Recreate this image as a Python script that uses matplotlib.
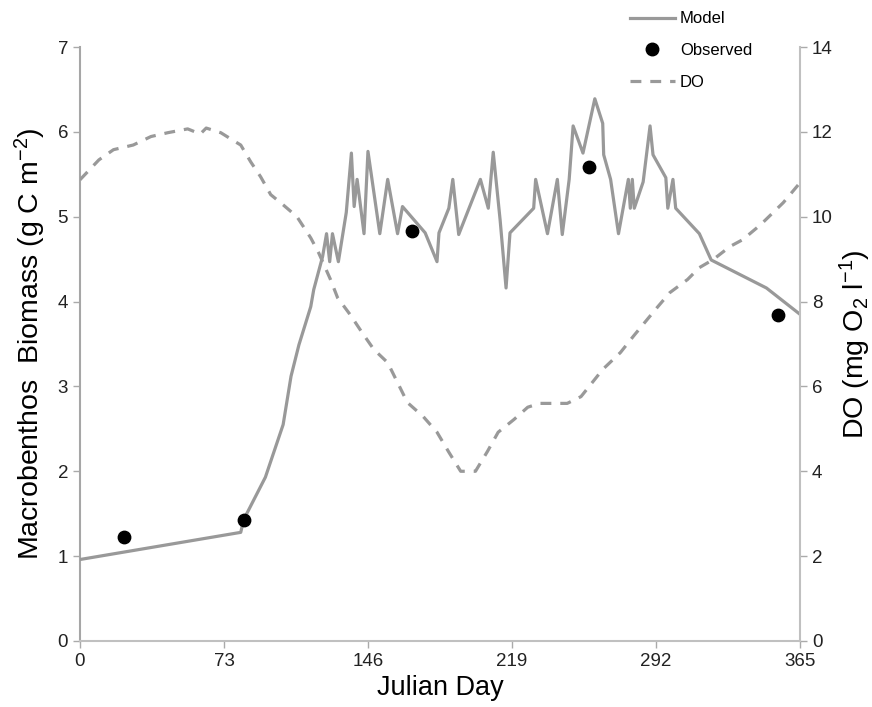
import matplotlib.pyplot as plt
from matplotlib.lines import Line2D

plt.rcParams['font.family'] = ['Liberation Sans', 'DejaVu Sans']
plt.rcParams['mathtext.default'] = 'regular'

# Model macrobenthos biomass (g C m-2)
model_day = [0, 81.5, 83, 94, 103, 107, 111, 117, 118.5, 123, 125, 126.6, 128, 131, 135,
             137.6, 139, 140.5, 144, 146, 152, 156, 161, 163.5, 175, 181, 182, 187, 189,
             192, 203, 207, 209.5, 213, 216, 218, 230, 231, 237, 242, 244.5, 248, 250, 255,
             261, 265, 265.5, 269, 273, 278, 279, 280, 281, 285.5, 289, 290.5, 297, 298,
             300.6, 302, 314, 320, 348, 365]
model_val = [0.96, 1.28, 1.43, 1.93, 2.55, 3.12, 3.49, 3.94, 4.14, 4.53, 4.8, 4.47, 4.8, 4.47, 5.05,
             5.75, 5.12, 5.44, 4.8, 5.77, 4.8, 5.44, 4.8, 5.12, 4.81, 4.47, 4.81, 5.1, 5.44,
             4.79, 5.44, 5.1, 5.76, 4.96, 4.16, 4.81, 5.1, 5.44, 4.8, 5.44, 4.79, 5.44, 6.07, 5.75,
             6.39, 6.1, 5.73, 5.44, 4.8, 5.44, 5.1, 5.44, 5.1, 5.41, 6.07, 5.73, 5.46, 5.1,
             5.44, 5.1, 4.8, 4.49, 4.16, 3.85]

# Observed biomass
obs_day = [22.5, 83, 168.5, 258, 354]
obs_val = [1.22, 1.42, 4.83, 5.59, 3.84]

# Dissolved oxygen (mg O2 l-1)
do_day = [0, 9.6, 17, 27, 36, 44.5, 54.6, 61, 64, 71.4, 79, 81.5, 86.6, 91.6, 96.7, 103, 110,
          117, 121, 127, 130.6, 137, 143, 149, 156, 161, 166, 174, 181, 187, 193, 200.5, 206.6,
          212, 220, 227, 233, 238.5, 247, 254, 265, 274, 280.5, 287.6, 292.6, 299, 308, 314,
          321, 329.6, 336, 345, 356.5, 365]
do_val = [10.87, 11.34, 11.58, 11.69, 11.89, 11.98, 12.07, 11.95, 12.09, 11.98, 11.76, 11.69,
          11.29, 10.94, 10.52, 10.28, 10.0, 9.5, 9.15, 8.52, 8.09, 7.69, 7.27, 6.87, 6.56, 6.09,
          5.62, 5.29, 4.92, 4.45, 4.0, 4.0, 4.47, 4.92, 5.22, 5.51, 5.6, 5.6, 5.6, 5.76, 6.4,
          6.8, 7.18, 7.58, 7.86, 8.21, 8.52, 8.8, 8.99, 9.3, 9.46, 9.81, 10.33, 10.8]

line_col = '#999999'
dash = (3.4, 2.8)

fig = plt.figure(figsize=(8.72, 7.07), dpi=100)
ax = fig.add_axes([0.0917, 0.0934, 0.8257, 0.8401])
ax2 = ax.twinx()

ax.plot(model_day, model_val, color=line_col, lw=2.3, zorder=3)
ax.scatter(obs_day, obs_val, s=80, color='black', zorder=4)
ax2.plot(do_day, do_val, color=line_col, lw=2.3, dashes=dash)

ax.set_xlim(0, 365)
ax.set_ylim(0, 7)
ax2.set_ylim(0, 14)
ax.set_xticks([0, 73, 146, 219, 292, 365])
ax.set_yticks(range(0, 8))
ax2.set_yticks(range(0, 15, 2))

for a in (ax, ax2):
    a.spines['top'].set_visible(False)
    a.tick_params(labelsize=13.5, labelcolor='#222222', length=5, width=1,
                  direction='out', color='#aaaaaa')
ax.spines['left'].set_color('#a6a6a6')
ax.spines['bottom'].set_color('#c0c0c0')
ax.spines['right'].set_visible(False)
ax2.spines['left'].set_visible(False)
ax2.spines['bottom'].set_visible(False)
ax2.spines['right'].set_color('#c0c0c0')
for a in (ax, ax2):
    for s in a.spines.values():
        s.set_linewidth(1.5)

ax.set_xlabel('Julian Day', fontsize=19.5, labelpad=4)
ax.set_ylabel('Macrobenthos  Biomass (g C m$^{-2}$)', fontsize=20.5, labelpad=7)
ax2.set_ylabel('DO (mg O$_2$ l$^{-1}$)', fontsize=20.5, labelpad=4)

handles = [Line2D([], [], color=line_col, lw=2.3),
           Line2D([], [], color='black', marker='o', ls='none', markersize=9),
           Line2D([], [], color=line_col, lw=2.3, dashes=dash)]
fig.legend(handles, ['Model', 'Observed', 'DO'], loc='upper left',
           bbox_to_anchor=(0.705, 1.005), frameon=False, fontsize=12,
           handlelength=2.7, labelspacing=1.0, handletextpad=0.3)

fig.savefig('out.png', dpi=100)
